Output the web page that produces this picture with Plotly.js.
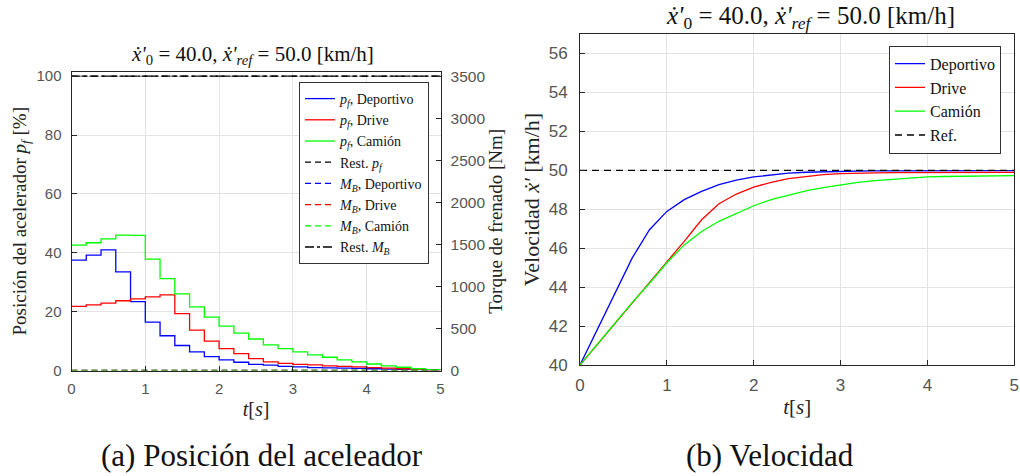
<!DOCTYPE html>
<html>
<head>
<meta charset="utf-8">
<script src="https://cdn.plot.ly/plotly-3.0.1.min.js"></script>
<style>html,body{margin:0;padding:0;background:#fff;}#chart{width:1020px;height:476px;}</style>
</head>
<body>
<div id="chart"></div>
<script>
// ---- data ----
const tSteps = [0,0.2,0.4,0.6,0.8,1.0,1.2,1.4,1.6,1.8,2.0,2.2,2.4,2.6,2.8,3.0,3.2,3.4,3.6,3.8,4.0,4.2,4.4,4.6,4.8,5.0];
const pfDeportivo = [37.5,39.2,41.0,33.5,23.4,16.4,11.8,8.5,6.3,4.7,3.6,2.8,2.1,1.8,1.4,1.2,1.0,0.9,0.8,0.7,0.6,0.5,0.4,0.3,0.2,0.1];
const pfDrive     = [21.8,22.3,22.9,23.7,24.3,25.0,25.7,19.3,13.7,10.0,7.4,5.7,4.0,2.9,2.4,2.1,1.9,1.6,1.4,1.2,1.0,0.8,0.6,0.4,0.2,0.1];
const pfCamion    = [42.6,43.4,44.7,46.0,45.9,37.8,31.2,26.0,21.6,18.1,15.1,12.7,10.7,8.7,7.4,6.3,5.3,4.5,3.6,2.9,2.2,1.6,1.1,0.6,0.3,0.3];
const mbDeportivo = [0,0,0,0,0,0,0,0,0,0,0,0,0,0,0,0,0,0,0,0,0,0,0,0,0,0];
const mbDrive     = [0,0,0,0,0,0,0,0,0,0,0,0,0,0,0,0,0,0,0,0,0,0,0,0,0,0];
const mbCamion    = [0,0,0,0,0,0,0,0,0,0,0,0,0,0,0,0,0,0,0,0,0,0,0,0,0,0];
const restT  = [0, 5];
const restPf = [100, 100];
const restMb = [3500, 3500];

const tVel = [0,0.2,0.4,0.6,0.8,1.0,1.2,1.4,1.6,1.8,2.0,2.2,2.4,2.6,2.8,3.0,3.2,3.4,3.6,3.8,4.0,4.2,4.4,4.6,4.8,5.0];
const vDeportivo = [40,41.83,43.66,45.49,46.95,47.89,48.49,48.92,49.26,49.49,49.66,49.76,49.85,49.90,49.93,49.95,49.96,49.97,49.97,49.98,49.98,49.98,49.98,49.98,49.98,49.98];
const vDrive     = [40,41.07,42.13,43.20,44.25,45.30,46.35,47.46,48.28,48.78,49.14,49.38,49.57,49.69,49.78,49.83,49.86,49.87,49.88,49.88,49.89,49.89,49.89,49.89,49.89,49.89];
const vCamion    = [40,41.07,42.13,43.20,44.20,45.25,46.17,46.86,47.38,47.80,48.18,48.49,48.73,48.94,49.11,49.26,49.38,49.47,49.54,49.59,49.66,49.68,49.69,49.71,49.71,49.73];
const refT = [0, 5];
const vRef = [50, 50];

const xTicks = [0,1,2,3,4,5];
const pfTicks = [0,20,40,60,80,100];
const mbTicks = [0,500,1000,1500,2000,2500,3000,3500];
const vTicks = [40,42,44,46,48,50,52,54,56];

// ---- styling ----
const BLUE = '#0000ff', RED = '#ff0000', GREEN = '#00ff00', BLACK = '#000000';
const SERIF = 'Liberation Serif, DejaVu Serif, serif';
const SANS = 'Liberation Sans, DejaVu Sans, sans-serif';
const W = 1020, H = 476;
const px = v => v / W, py = v => 1 - v / H;

function stairs(x, y, name, color, dash, yaxis, legend) {
  return {x: x, y: y, name: name, type: 'scatter', mode: 'lines', xaxis: 'x', yaxis: yaxis,
    line: {color: color, width: 1.3, shape: 'hv', dash: dash}, legend: legend};
}

const traces = [
  stairs(tSteps, pfDeportivo, '<i>p<sub>f</sub></i>, Deportivo', BLUE, 'solid', 'y', 'legend'),
  stairs(tSteps, pfDrive, '<i>p<sub>f</sub></i>, Drive', RED, 'solid', 'y', 'legend'),
  stairs(tSteps, pfCamion, '<i>p<sub>f</sub></i>, Camión', GREEN, 'solid', 'y', 'legend'),
  {x: restT, y: restPf, name: 'Rest. <i>p<sub>f</sub></i>', type: 'scatter', mode: 'lines', xaxis: 'x', yaxis: 'y',
    line: {color: BLACK, width: 1.3, dash: '6px,4px'}, legend: 'legend'},
  stairs(tSteps, mbDeportivo, '<i>M<sub>B</sub></i>, Deportivo', BLUE, '6px,4px', 'y2', 'legend'),
  stairs(tSteps, mbDrive, '<i>M<sub>B</sub></i>, Drive', RED, '6px,4px', 'y2', 'legend'),
  stairs(tSteps, mbCamion, '<i>M<sub>B</sub></i>, Camión', GREEN, '6px,4px', 'y2', 'legend'),
  {x: restT, y: restMb, name: 'Rest. <i>M<sub>B</sub></i>', type: 'scatter', mode: 'lines', xaxis: 'x', yaxis: 'y2',
    line: {color: BLACK, width: 1.3, dash: 'dashdot'}, legend: 'legend'},

  {x: tVel, y: vDeportivo, name: 'Deportivo', type: 'scatter', mode: 'lines', xaxis: 'x2', yaxis: 'y3',
    line: {color: BLUE, width: 1.3}, legend: 'legend2'},
  {x: tVel, y: vDrive, name: 'Drive', type: 'scatter', mode: 'lines', xaxis: 'x2', yaxis: 'y3',
    line: {color: RED, width: 1.3}, legend: 'legend2'},
  {x: tVel, y: vCamion, name: 'Camión', type: 'scatter', mode: 'lines', xaxis: 'x2', yaxis: 'y3',
    line: {color: GREEN, width: 1.3}, legend: 'legend2'},
  {x: refT, y: vRef, name: 'Ref.', type: 'scatter', mode: 'lines', xaxis: 'x2', yaxis: 'y3',
    line: {color: BLACK, width: 1.3, dash: '7px,5px'}, legend: 'legend2'}
];

const AX = '#262626', GRID = '#e3e3e3', TICKC = '#555555';
function axisBase(extra) {
  return Object.assign({
    showline: true, linecolor: AX, linewidth: 1, mirror: true,
    ticks: 'inside', ticklen: 5, tickcolor: AX, tickwidth: 1,
    showgrid: true, gridcolor: GRID, gridwidth: 1, zeroline: false,
    automargin: false, fixedrange: true
  }, extra);
}

const layout = {
  width: W, height: H,
  margin: {l: 0, r: 0, t: 0, b: 0},
  paper_bgcolor: '#ffffff', plot_bgcolor: '#ffffff',
  showlegend: true,
  xaxis: axisBase({domain: [px(71.5), px(440.5)], anchor: 'y', range: [0, 5], tickvals: xTicks,
    ticklabelstandoff: 4, tickfont: {family: SANS, size: 15, color: TICKC},
    title: {text: '<i>t</i>[<i>s</i>]', font: {family: SERIF, size: 20, color: '#222'}, standoff: 6}}),
  yaxis: axisBase({domain: [py(370.5), py(72)], anchor: 'x', range: [0, 101.4], tickvals: pfTicks,
    mirror: false, ticklabelstandoff: 6, tickfont: {family: SANS, size: 15, color: TICKC},
    title: {text: 'Posición del acelerador <i>p<sub>f</sub></i> [%]', font: {family: SERIF, size: 19, color: '#222'}, standoff: 4}}),
  yaxis2: axisBase({overlaying: 'y', side: 'right', anchor: 'x', range: [0, 3549], tickvals: mbTicks,
    showgrid: false, mirror: false, ticklabelstandoff: 6, tickfont: {family: SANS, size: 15.5, color: TICKC},
    title: {text: 'Torque de frenado [Nm]', font: {family: SERIF, size: 19, color: '#222'}, standoff: 3}}),
  xaxis2: axisBase({domain: [px(580), px(1014.3)], anchor: 'y3', range: [0, 5], tickvals: xTicks,
    ticklabelstandoff: 5, tickfont: {family: SANS, size: 17, color: TICKC},
    title: {text: '<i>t</i>[<i>s</i>]', font: {family: SERIF, size: 21, color: '#222'}, standoff: 4}}),
  yaxis3: axisBase({domain: [py(365), py(34)], anchor: 'x2', range: [40, 57], tickvals: vTicks,
    ticklabelstandoff: 8, tickfont: {family: SANS, size: 17, color: TICKC},
    title: {text: 'Velocidad <i>ẋ\'</i> [km/h]', font: {family: SERIF, size: 22, color: '#222'}, standoff: 2}}),
  legend: {x: px(429), y: py(82), xanchor: 'right', yanchor: 'top', bgcolor: '#ffffff',
    bordercolor: '#333', borderwidth: 1, font: {family: SERIF, size: 14, color: '#111'},
    tracegroupgap: 0, itemwidth: 30, traceorder: 'normal'},
  legend2: {x: px(1001), y: py(45.7), xanchor: 'right', yanchor: 'top', bgcolor: '#ffffff',
    bordercolor: '#333', borderwidth: 1, font: {family: SERIF, size: 16, color: '#111'},
    tracegroupgap: 0, itemwidth: 30, traceorder: 'normal'},
  annotations: [
    {text: '<i>ẋ\'</i><sub>0</sub> = 40.0, <i>ẋ\'</i><sub><i>ref</i></sub> = 50.0 [km/h]', xref: 'paper', yref: 'paper',
      x: px(252), y: py(55), xanchor: 'center', yanchor: 'middle', showarrow: false,
      font: {family: SERIF, size: 21, color: '#111'}},
    {text: '<i>ẋ\'</i><sub>0</sub> = 40.0, <i>ẋ\'</i><sub><i>ref</i></sub> = 50.0 [km/h]', xref: 'paper', yref: 'paper',
      x: px(810), y: py(18), xanchor: 'center', yanchor: 'middle', showarrow: false,
      font: {family: SERIF, size: 25, color: '#111'}},
    {text: '(a) Posición del aceleador', xref: 'paper', yref: 'paper',
      x: px(262), y: py(455), xanchor: 'center', yanchor: 'middle', showarrow: false,
      font: {family: SERIF, size: 31, color: '#111'}},
    {text: '(b) Velocidad', xref: 'paper', yref: 'paper',
      x: px(770), y: py(455), xanchor: 'center', yanchor: 'middle', showarrow: false,
      font: {family: SERIF, size: 31, color: '#111'}}
  ]
};

Plotly.newPlot('chart', traces, layout, {displayModeBar: false, staticPlot: true});
</script>
</body>
</html>
